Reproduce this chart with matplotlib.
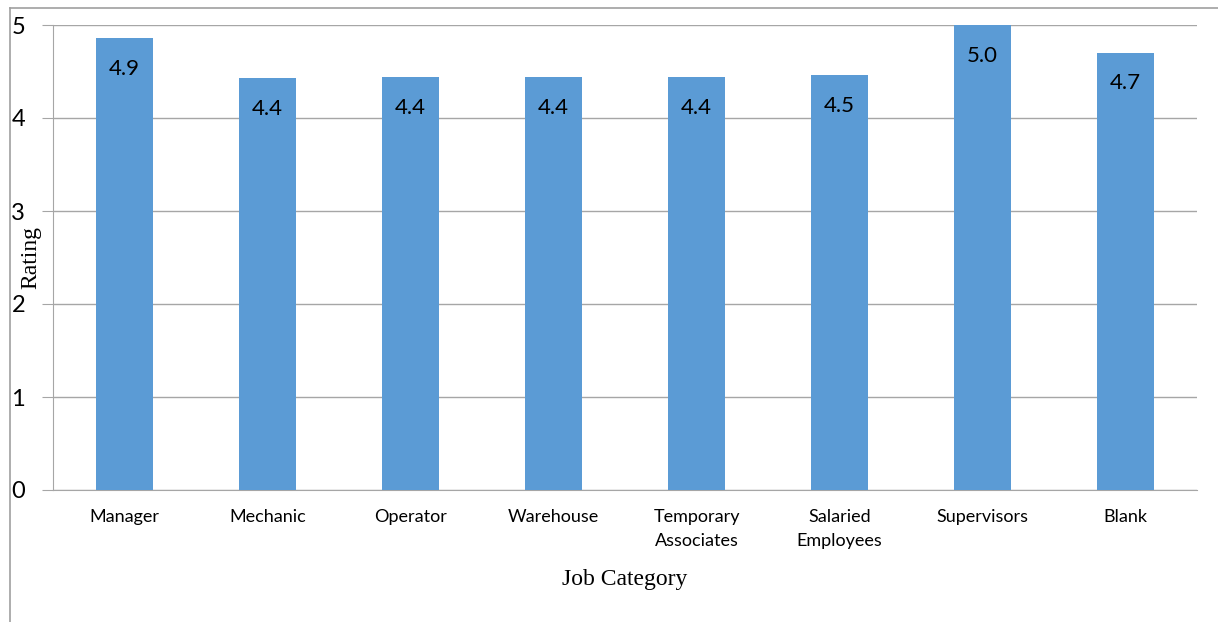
import matplotlib
matplotlib.use("Agg")
import matplotlib.pyplot as plt
from matplotlib.lines import Line2D

# data
categories = ["Manager", "Mechanic", "Operator", "Warehouse",
              "Temporary\nAssociates", "Salaried\nEmployees", "Supervisors", "Blank"]
ratings = [4.86, 4.43, 4.44, 4.44, 4.44, 4.46, 5.0, 4.70]
yticks = [0, 1, 2, 3, 4, 5]

bar_color = "#5B9BD5"
grid_color = "#A6A6A6"
sans = ["Lato", "DejaVu Sans"]
serif = ["Liberation Serif", "DejaVu Serif"]

fig = plt.figure(figsize=(12.18, 6.22), dpi=100)
ax = fig.add_axes([53 / 1218, 132 / 622, 1144 / 1218, 465 / 622])

x = list(range(len(categories)))
bars = ax.bar(x, ratings, width=0.4, color=bar_color, zorder=3)

for b, v in zip(bars, ratings):
    ax.annotate(f"{v:.1f}", (b.get_x() + b.get_width() / 2, v),
                xytext=(0, -22), textcoords="offset points",
                ha="center", va="center", fontsize=16, family=sans, color="black")

ax.set_xlim(-0.5, len(categories) - 0.5)
ax.set_ylim(0, 5)
ax.set_yticks(yticks)
ax.set_yticklabels([str(t) for t in yticks], family=sans, fontsize=17)
ax.set_xticks(x)
ax.set_xticklabels(categories, family=sans, fontsize=13, linespacing=1.6)
ax.tick_params(axis="x", length=0, pad=14)
ax.tick_params(axis="y", length=8, color=grid_color, pad=12)

ax.yaxis.grid(True, color=grid_color, linewidth=1, zorder=0)
for s in ["top", "right"]:
    ax.spines[s].set_visible(False)
ax.spines["left"].set_color(grid_color)
ax.spines["bottom"].set_color(grid_color)

ax.set_xlabel("Job Category", family=serif, fontsize=17, labelpad=14)
ax.set_ylabel("Rating", family=serif, fontsize=17)
ax.yaxis.set_label_coords(-0.010, 0.5)

# outer frame lines (left and top)
fig.add_artist(Line2D([10 / 1218, 10 / 1218], [0, 1 - 8 / 622],
                      transform=fig.transFigure, color="#A0A0A0", linewidth=1.2))
fig.add_artist(Line2D([10 / 1218, 1], [1 - 8 / 622, 1 - 8 / 622],
                      transform=fig.transFigure, color="#A0A0A0", linewidth=1.2))

fig.savefig("out.png", dpi=100)
